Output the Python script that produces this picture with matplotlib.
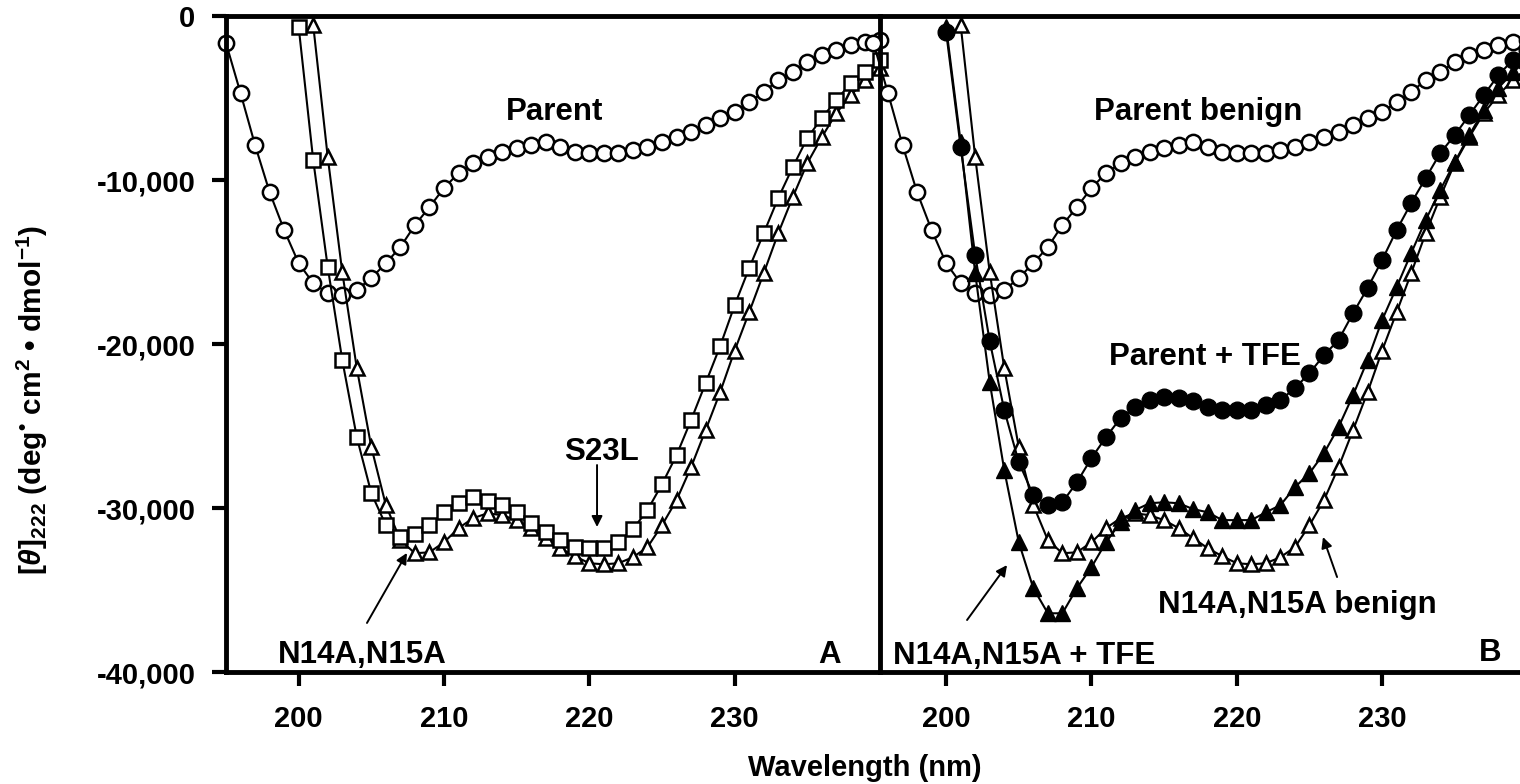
import numpy as np
import matplotlib.pyplot as plt

plt.rcParams['font.family'] = ['Liberation Sans', 'DejaVu Sans']
plt.rcParams['font.weight'] = 'bold'
plt.rcParams['mathtext.fontset'] = 'custom'
plt.rcParams['mathtext.rm'] = 'Liberation Sans:bold'
plt.rcParams['mathtext.it'] = 'Liberation Sans:bold:italic'
plt.rcParams['mathtext.bf'] = 'Liberation Sans:bold'

# CD spectra, mean residue ellipticity at 1 nm steps
wl_parent = np.arange(195, 241)
parent = [-1650, -4700, -7870, -10740, -13050, -15070, -16290, -16900, -17020, -16710,
          -15980, -15070, -14090, -12750, -11650, -10490, -9580, -8970, -8600, -8300,
          -8050, -7870, -7690, -7990, -8300, -8360, -8360, -8360, -8170, -7990,
          -7690, -7380, -7080, -6650, -6220, -5860, -5250, -4640, -3900, -3420,
          -2810, -2380, -2070, -1770, -1590, -1460]

wl_s23l = np.arange(200, 241)
s23l = [-670, -8780, -15310, -20980, -25680, -29100, -31050, -31780, -31600, -31050,
        -30260, -29710, -29340, -29590, -29830, -30260, -30930, -31480, -31960, -32390,
        -32450, -32450, -32090, -31290, -30130, -28550, -26780, -24640, -22390, -20130,
        -17630, -15370, -13240, -11100, -9210, -7440, -6220, -5120, -4090, -3420,
        -2680]

wl_n14a = np.arange(201, 241)
n14a = [-550, -8600, -15620, -21470, -26290, -29830, -31960, -32760, -32700, -32090,
        -31230, -30620, -30320, -30440, -30740, -31230, -31840, -32450, -32940, -33370,
        -33430, -33370, -33000, -32390, -31050, -29520, -27510, -25250, -22940, -20400,
        -18060, -15680, -13240, -11040, -8970, -7380, -5920, -4820, -3900, -3170]

wl_tfe = np.arange(200, 241)
parent_tfe = [-980, -7990, -14580, -19830, -24030, -27210, -29220, -29830, -29650, -28430,
              -26960, -25680, -24520, -23850, -23420, -23240, -23300, -23490, -23850, -24030,
              -24030, -24030, -23730, -23420, -22690, -21780, -20680, -19760, -18120, -16590,
              -14880, -13050, -11410, -9880, -8360, -7260, -6040, -4820, -3600, -2680,
              -2070]
n14a_tfe = [-670, -7690, -15680, -22330, -27690, -32090, -34890, -36420, -36420, -34890,
            -33610, -32090, -30870, -30130, -29710, -29650, -29710, -30070, -30260, -30740,
            -30740, -30740, -30260, -29830, -28730, -27880, -26660, -25070, -23120, -20980,
            -18540, -16530, -14460, -12440, -10610, -8910, -7260, -5730, -4390, -3420,
            -2680]

xticks = [200, 210, 220, 230]
yticks = [0, -10000, -20000, -30000, -40000]
ytick_labels = ['0', '-10,000', '-20,000', '-30,000', '-40,000']

W, H = 1520, 784
fig = plt.figure(figsize=(W / 100, H / 100), dpi=100)
ax1 = fig.add_axes([226 / W, 112 / H, 654 / W, 656 / H])
ax2 = fig.add_axes([880 / W, 112 / H, 654 / W, 656 / H])
ax2.patch.set_visible(False)

line_kw = dict(color='black', lw=1.5, clip_on=False)
open_kw = dict(markerfacecolor='white', markeredgecolor='black', markeredgewidth=1.8)
fill_kw = dict(markerfacecolor='black', markeredgecolor='black', markeredgewidth=1.0)

# ── panel A ──────────────────────────────
ax1.plot(wl_parent, parent, marker='o', ms=11, **open_kw, **line_kw)
ax1.plot(wl_n14a, n14a, marker='^', ms=10.5, **open_kw, **line_kw)
ax1.plot(wl_s23l, s23l, marker='s', ms=10.5, **open_kw, **line_kw)
ax1.set_xlim(195, 240)

# ── panel B ──────────────────────────────
ax2.plot(wl_parent, parent, marker='o', ms=11, **open_kw, **line_kw)
ax2.plot(wl_n14a, n14a, marker='^', ms=10.5, **open_kw, **line_kw)
ax2.plot(wl_tfe, n14a_tfe, marker='^', ms=11, **fill_kw, **line_kw)
ax2.plot(wl_tfe, parent_tfe, marker='o', ms=12, **fill_kw, **line_kw)
ax2.set_xlim(195.45, 240.45)

for ax in (ax1, ax2):
    ax.set_ylim(-40000, 0)
    ax.set_xticks(xticks)
    ax.tick_params(axis='x', direction='out', length=10, width=3, labelsize=21, pad=14)
    for s in ax.spines.values():
        s.set_linewidth(3.5)
        s.set_zorder(5)

ax1.set_yticks(yticks)
ax1.set_yticklabels(ytick_labels)
ax1.tick_params(axis='y', direction='out', length=10, width=3, labelsize=21, pad=12)
ax2.set_yticks([])
ax2.spines['left'].set_visible(False)

txt = dict(fontsize=22.5, fontweight='bold', ha='center', va='center')
arr = dict(arrowstyle='-|>', color='black', lw=1.4, mutation_scale=16, shrinkA=0, shrinkB=0)

ax1.text(217.64, -5850, 'Parent', **txt)
ax1.text(220.87, -26585, 'S23L', **txt)
ax1.annotate('', xy=(220.53, -31160), xytext=(220.53, -27380), arrowprops=arr)
ax1.text(204.36, -38960, 'N14A,N15A', **txt)
ax1.annotate('', xy=(207.45, -32740), xytext=(204.70, -37010), arrowprops=arr)
ax1.text(236.56, -38960, 'A', **txt)

ax2.text(217.33, -5850, 'Parent benign', **txt)
ax2.text(217.81, -20790, 'Parent + TFE', **txt)
ax2.text(224.14, -35910, 'N14A,N15A benign', **txt)
ax2.annotate('', xy=(225.93, -31770), xytext=(226.90, -34210), arrowprops=arr)
ax2.text(205.36, -39020, 'N14A,N15A + TFE', **txt)
ax2.annotate('', xy=(204.19, -33480), xytext=(201.44, -36830), arrowprops=arr)
ax2.text(237.42, -38840, 'B', **txt)

fig.text(865 / W, 1 - 768 / H, 'Wavelength (nm)', fontsize=21, fontweight='bold',
         ha='center', va='center')
fig.text(32 / W, 1 - 400 / H,
         '$[\\mathit{\\theta}]_{222}$ (deg$^{\u2022}$ cm$^{2}$ \u2022 dmol$^{-1}$)',
         fontsize=21.5, fontweight='bold', rotation=90, ha='center', va='center')

fig.savefig('out.png', dpi=100)
